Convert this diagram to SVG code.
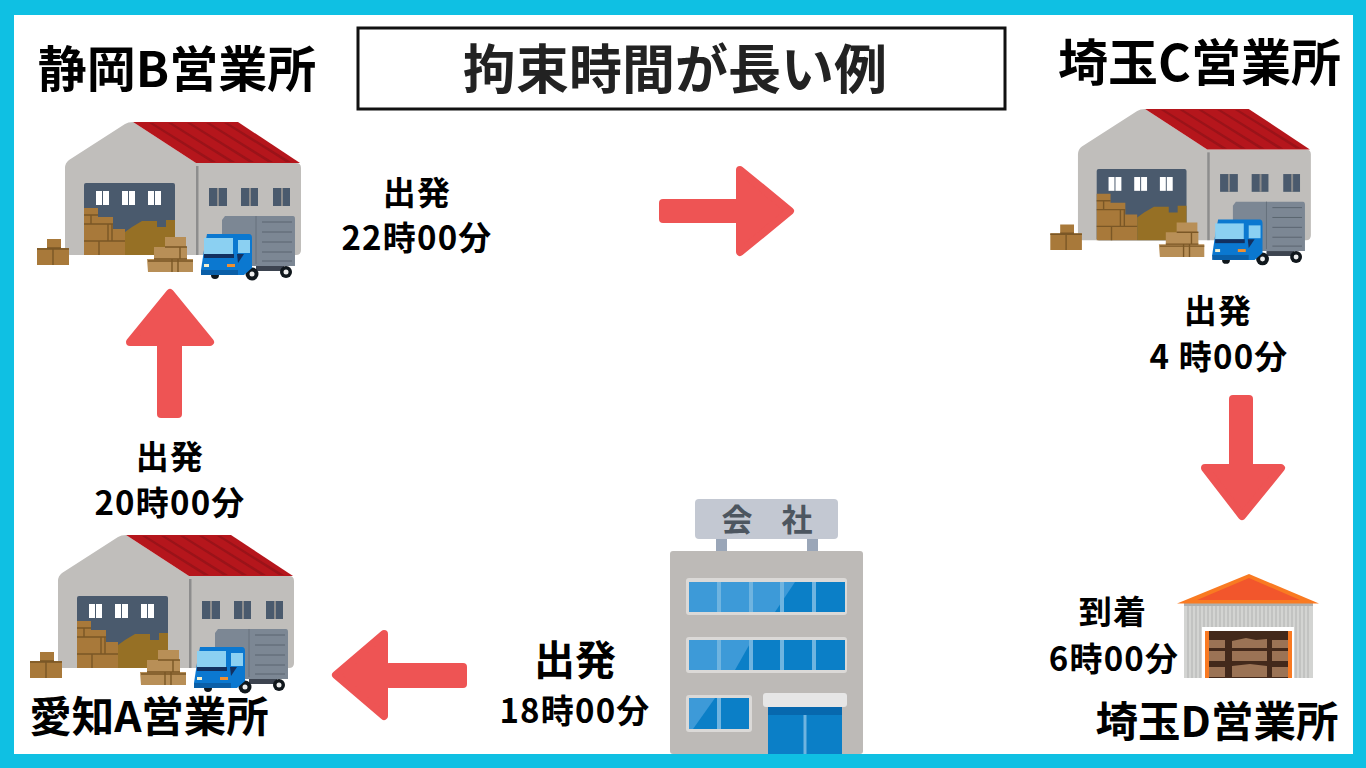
<svg xmlns="http://www.w3.org/2000/svg" width="1366" height="768" viewBox="0 0 1366 768">
<style>
text{font-family:"Noto Sans CJK JP","Noto Sans",sans-serif;font-weight:700;fill:#000;text-anchor:middle}
.t{font-size:33px;letter-spacing:1.2px}.h{font-size:42.500px}.n{font-size:49px}
.a{fill:#ee5454;stroke:#ee5454;stroke-width:8;stroke-linejoin:round}
.s{fill:#ee5454}
.bx{fill:#a8793a}.bl{fill:none;stroke:#7a5726;stroke-width:1.400}
</style>
<defs>
<g id="wh">
<path d="M65 168Q65 163 69 160L125 124Q128 122 133 122L196 163H296Q301 163 301 168V250Q301 255 296 255H70Q65 255 65 250Z" fill="#c0bebb"/>
<path d="M133 122H238L300 163H196Z" fill="#b5161c"/>
<path d="M149 123H153L216 162H211ZM168 123H172L235 162H230ZM187 123H191L254 162H249ZM206 123H210L273 162H268ZM224 123H228L291 162H286Z" fill="#9a1319"/>
<rect x="196" y="166" width="2.500" height="89" fill="#8d8d8d"/>
<rect x="84" y="183" width="91" height="72" rx="2" fill="#4a5a6d"/>
<g fill="#fff"><rect x="96" y="191" width="6" height="14"/><rect x="103" y="191" width="6" height="14"/><rect x="122" y="191" width="6" height="14"/><rect x="129" y="191" width="6" height="14"/><rect x="148" y="191" width="6" height="14"/><rect x="155" y="191" width="6" height="14"/></g>
<g fill="#4a5a6d"><rect x="209" y="188" width="18" height="18"/><rect x="241" y="188" width="17" height="18"/><rect x="273" y="188" width="17" height="18"/></g>
<g fill="#8d8d8d"><rect x="217" y="188" width="2" height="18"/><rect x="249" y="188" width="2" height="18"/><rect x="281" y="188" width="2" height="18"/></g>
<path d="M125 255V232L132 227 142 221H157V227H166V220H175V255Z" fill="#967025"/>
<path d="M84 208H98V217H113V229H125V255H84Z" class="bx"/>
<path d="M84 215H98M84 224H113M84 241H125M91 215V224M108 224V241M112 224V241M99 241V255" class="bl"/>
<path d="M47 248V239H61V248H69V265H37V248Z" class="bx"/>
<path d="M37 249H69M53 249V265M47 248H61" class="bl"/>
<path d="M165 247V237H186V247H187V259H193V272H148L147 259H154V247Z" fill="#b88f57"/>
<path d="M154 259H187M148 261H193M165 247H187M172 272V259M180 247V259M178 259V272" class="bl"/>
<path d="M225 216H293Q295 216 295 219V266H222V220Z" fill="#7c8794"/>
<path d="M256 216V264" stroke="#66717d" stroke-width="1"/>
<path d="M262 222H292M262 232H292M262 242H292M262 252H292M262 261H292" stroke="#5a6570" stroke-width="1"/>
<rect x="256" y="266" width="28" height="5" fill="#3d4450"/>
<circle cx="252" cy="274" r="6.500" fill="#10171c"/><circle cx="252" cy="274" r="2.500" fill="#eee"/>
<circle cx="286" cy="272" r="6" fill="#10171c"/><circle cx="286" cy="272" r="2.500" fill="#eee"/>
<circle cx="215" cy="275" r="4" fill="#10171c"/>
<path d="M207 234H249Q252 234 252 238V268L244 275H203L201 270 204 250Z" fill="#0b78d0"/>
<path d="M204 238H233V254H204Z" fill="#8bd0f2"/>
<path d="M238 240H250V253H238Z" fill="#8bd0f2"/>
<path d="M204 254H234V258H204Z" fill="#123060"/>
<path d="M237 254H244L238 263Z" fill="#123060"/>
<rect x="204" y="264" width="5" height="3" fill="#f4f0d0"/><rect x="227" y="264" width="8" height="3" fill="#f09030"/>
<rect x="201" y="270" width="37" height="5" fill="#0a5fa8"/>
</g>
</defs>
<rect width="1366" height="768" fill="#0fc0e3"/>
<rect x="14" y="15" width="1339" height="739" fill="#fff"/>
<g id="title"><rect x="358" y="28" width="647" height="81" fill="#fff" stroke="#111" stroke-width="3"/>
<text x="675" y="89" style="font-size:53px;fill:#222">拘束時間が長い例</text></g>
<g id="node-b"><use href="#wh"/><text x="177" y="87" class="n">静岡B営業所</text></g>
<g id="node-c"><use href="#wh" transform="translate(1013.800 -11.500) scale(.987)"/><text x="1199.500" y="81" class="n" style="font-size:50px">埼玉C営業所</text></g>
<g id="node-a"><use href="#wh" transform="translate(-7 413)"/><text x="149" y="732" class="h">愛知A営業所</text></g>
<g id="node-d">
<rect x="1184" y="603" width="129" height="75" fill="#d3d4d2"/>
<path d="M1188 603V678M1192 603V678M1196 603V678M1200 603V678M1296 603V678M1300 603V678M1304 603V678M1308 603V678M1204 603V627M1208 603V627M1212 603V627M1216 603V627M1220 603V627M1224 603V627M1228 603V627M1232 603V627M1236 603V627M1240 603V627M1244 603V627M1248 603V627M1252 603V627M1256 603V627M1260 603V627M1264 603V627M1268 603V627M1272 603V627M1276 603V627M1280 603V627M1284 603V627M1288 603V627M1292 603V627" stroke="#b9bbb9" stroke-width="1.300"/>
<rect x="1184" y="603" width="129" height="3" fill="#b0b0ae"/>
<path d="M1177 603.500L1249 574 1319 603.500Z" fill="#f97a22"/>
<path d="M1197 600L1249 578 1300 600Z" fill="#f2562c"/>
<rect x="1202" y="627" width="92" height="51" fill="#fff"/>
<rect x="1205" y="631" width="87" height="47" fill="#f97a22"/>
<rect x="1209" y="631" width="79" height="47" fill="#43291b"/>
<path d="M1209 640H1225V648H1209ZM1232 641L1246 638 1256 640 1267 639V648H1232ZM1272 640H1288V648H1272ZM1209 651H1225V661H1209ZM1232 651H1267V661H1232ZM1272 651H1288V661H1272ZM1209 667H1225V677H1209ZM1232 666L1250 664 1267 666V677H1232ZM1272 667H1288V677H1272Z" fill="#9b7355"/>
<text x="1217" y="737" class="h">埼玉D営業所</text>
</g>
<g id="node-company">
<rect x="716" y="537" width="11" height="16" fill="#9aa6b8"/><rect x="807" y="537" width="11" height="16" fill="#9aa6b8"/>
<rect x="695" y="499" width="143" height="40" rx="4" fill="#c3c8d2"/>
<text x="737" y="531" style="font-size:31px;fill:#4d5660">会</text><text x="797" y="531" style="font-size:31px;fill:#4d5660">社</text>
<rect x="670" y="551" width="193" height="203" rx="3" fill="#bdbab7"/>
<rect x="686" y="578" width="161" height="37" rx="3" fill="#dbd9d7"/><rect x="689" y="582" width="156" height="30" fill="#0b7fc7"/>
<path d="M689 582H795L775 612H689Z" fill="#3d9ad8"/>
<rect x="686" y="637" width="161" height="36" rx="3" fill="#dbd9d7"/><rect x="689" y="640" width="156" height="30" fill="#0b7fc7"/>
<path d="M689 640H752L735 670H689Z" fill="#3d9ad8"/>
<rect x="686" y="695" width="66" height="37" rx="3" fill="#dbd9d7"/><rect x="689" y="698" width="60" height="31" fill="#0b7fc7"/>
<path d="M689 698H715L693 729H689Z" fill="#3d9ad8"/>
<path d="M719 582V612M751 582V612M782 582V612M814 582V612M719 640V670M751 640V670M782 640V670M814 640V670M719 698V729" stroke="#6fb4e0" stroke-width="4"/>
<rect x="768" y="707" width="74" height="47" fill="#0b7fc7"/><rect x="768" y="707" width="74" height="8" fill="#0768ae"/>
<rect x="763" y="693" width="84" height="14" rx="3" fill="#e6e6e6"/>
<path d="M805 715V754" stroke="#6fb4e0" stroke-width="3"/>
</g>
<g id="connectors">
<rect x="659" y="199" width="82" height="24" rx="4" class="s"/><path d="M740 170L790 211 740 252Z" class="a"/>
<rect x="1229" y="395" width="24" height="80" rx="4" class="s"/><path d="M1205 468L1242 516 1281 468Z" class="a"/>
<rect x="385" y="663" width="82" height="25" rx="4" class="s"/><path d="M384 634L336 675 384 716Z" class="a"/>
<rect x="157" y="338" width="25" height="80" rx="4" class="s"/><path d="M130 342L170 293 210 342Z" class="a"/>
</g>
<g id="labels">
<text x="417" y="205" class="t">出発</text><text x="417" y="250" class="t">22時00分</text>
<text x="1218" y="323" class="t">出発</text><text x="1219" y="369" class="t">4 時00分</text>
<text x="170" y="469" class="t">出発</text><text x="170" y="515" class="t">20時00分</text>
<text x="575" y="675" style="font-size:41px">出発</text><text x="575" y="723" class="t">18時00分</text>
<text x="1113" y="624" class="t">到着</text><text x="1114" y="671" class="t">6時00分</text>
</g>
</svg>
